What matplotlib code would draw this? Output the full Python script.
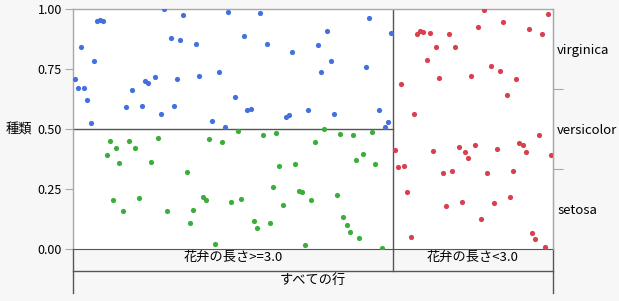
import matplotlib
matplotlib.use("Agg")
import matplotlib.pyplot as plt
import matplotlib.transforms as mtransforms
from matplotlib.lines import Line2D

plt.rcParams['font.family'] = ['Noto Sans CJK JP', 'DejaVu Sans']

# row index (0..149) and jittered y position for each species
virginica_rows = [0, 1, 2, 3, 4, 5, 6, 7, 8, 9, 16, 18, 21, 22, 23, 25, 27, 28, 30, 31,
                  32, 33, 34, 38, 39, 43, 45, 47, 48, 50, 53, 54, 55, 58, 60, 66, 67, 68, 73, 76,
                  77, 79, 80, 81, 91, 92, 95, 97, 98, 99]
virginica_vals = [0.707, 0.671, 0.843, 0.672, 0.620, 0.525, 0.782, 0.950, 0.954, 0.951,
                  0.590, 0.663, 0.597, 0.701, 0.690, 0.717, 0.563, 0.999, 0.880, 0.597,
                  0.710, 0.871, 0.975, 0.855, 0.721, 0.533, 0.739, 0.507, 0.989, 0.633,
                  0.886, 0.578, 0.582, 0.985, 0.855, 0.549, 0.560, 0.822, 0.578, 0.849,
                  0.739, 0.908, 0.782, 0.561, 0.760, 0.961, 0.579, 0.510, 0.528, 0.899]

versicolor_rows = [10, 11, 12, 13, 14, 15, 17, 19, 20, 24, 26, 29, 35, 36, 37, 40, 41, 42, 44, 46,
                   49, 51, 52, 56, 57, 59, 61, 62, 63, 64, 65, 69, 70, 71, 72, 74, 75, 78, 82, 83,
                   84, 85, 86, 87, 88, 89, 90, 93, 94, 96]
versicolor_vals = [0.393, 0.450, 0.204, 0.420, 0.357, 0.160, 0.449, 0.421, 0.214, 0.361,
                   0.464, 0.158, 0.321, 0.108, 0.164, 0.217, 0.203, 0.458, 0.022, 0.447,
                   0.196, 0.490, 0.207, 0.117, 0.089, 0.474, 0.110, 0.258, 0.482, 0.346,
                   0.182, 0.353, 0.240, 0.238, 0.017, 0.204, 0.446, 0.500, 0.224, 0.480,
                   0.132, 0.099, 0.070, 0.474, 0.370, 0.045, 0.397, 0.489, 0.353, 0.003]

setosa_rows = list(range(100, 150))
setosa_vals = [0.413, 0.343, 0.686, 0.345, 0.238, 0.049, 0.564, 0.897, 0.908, 0.904,
               0.786, 0.899, 0.408, 0.840, 0.713, 0.318, 0.179, 0.897, 0.325, 0.842,
               0.426, 0.195, 0.403, 0.379, 0.721, 0.432, 0.926, 0.125, 0.996, 0.315,
               0.761, 0.193, 0.418, 0.743, 0.947, 0.642, 0.217, 0.326, 0.710, 0.443,
               0.432, 0.404, 0.915, 0.065, 0.042, 0.476, 0.895, 0.010, 0.978, 0.390]

left_ticks = [0.0, 0.25, 0.50, 0.75, 1.00]
right_labels = ['setosa', 'versicolor', 'virginica']
split_labels = ['花弁の長さ>=3.0', '花弁の長さ<3.0']
split_rows = [0, 100, 150]
root_label = 'すべての行'

BG = '#f7f7f7'
DARK = '#555555'
GRAY = '#a8a8a8'

fig = plt.figure(figsize=(6.19, 3.01), dpi=100, facecolor=BG)
ax = fig.add_axes([73 / 619, 52 / 301, 480 / 619, 240 / 301])
ax.set_facecolor('white')

ax.scatter([r + 0.5 for r in virginica_rows], virginica_vals, s=14, color='#4270e0', linewidths=0, zorder=3)
ax.scatter([r + 0.5 for r in versicolor_rows], versicolor_vals, s=14, color='#3aad3a', linewidths=0, zorder=3)
ax.scatter([r + 0.5 for r in setosa_rows], setosa_vals, s=14, color='#d9404e', linewidths=0, zorder=3)

ax.set_xlim(split_rows[0], split_rows[-1])
ax.set_ylim(0, 1)
ax.set_xticks([])

# split lines
ax.plot([split_rows[0], split_rows[1]], [0.5, 0.5], color=DARK, lw=1.0, zorder=2)
ax.plot([split_rows[1], split_rows[1]], [0, 1], color=DARK, lw=1.0, zorder=2)

for side in ['left', 'top', 'right']:
    ax.spines[side].set_color(GRAY)
    ax.spines[side].set_linewidth(1.0)
ax.spines['bottom'].set_color(DARK)

ax.set_yticks(left_ticks)
ax.set_yticklabels(['%.2f' % t for t in left_ticks])
ax.tick_params(axis='y', length=6, color=GRAY, labelsize=9, pad=2)
ax.set_ylabel('種類', rotation=0, fontsize=9.5, va='center')
ax.yaxis.set_label_coords(-0.112, 0.5)

# right axis with species proportions
ax2 = ax.twinx()
ax2.set_ylim(0, 1)
ax2.set_yticks([1 / 3, 2 / 3])
ax2.set_yticklabels([])
ax2.set_yticks([1 / 6, 0.5, 5 / 6], minor=True)
ax2.set_yticklabels(right_labels, minor=True)
ax2.tick_params(axis='y', which='major', length=7, color=GRAY)
ax2.tick_params(axis='y', which='minor', length=0, labelsize=9.5, pad=3)
for side in ['left', 'top', 'bottom']:
    ax2.spines[side].set_visible(False)
ax2.spines['right'].set_color(GRAY)

# partition label rows under the plot
trans = mtransforms.blended_transform_factory(ax.transData, ax.transAxes)
row1 = -22 / 240
row2 = -44 / 240
for x in [split_rows[0], split_rows[-1]]:
    ax.add_line(Line2D([x, x], [0, row2], transform=trans, color=DARK, lw=1.0, clip_on=False))
ax.add_line(Line2D([split_rows[1], split_rows[1]], [0, row1], transform=trans, color=DARK, lw=1.0, clip_on=False))
ax.add_line(Line2D([split_rows[0], split_rows[-1]], [row1, row1], transform=trans, color=DARK, lw=1.0, clip_on=False))

for i, lab in enumerate(split_labels):
    xc = (split_rows[i] + split_rows[i + 1]) / 2
    ax.text(xc, row1 / 2 + 0.012, lab, transform=trans, ha='center', va='center', fontsize=9.5)
ax.text((split_rows[0] + split_rows[-1]) / 2, (row1 + row2) / 2 + 0.008, root_label,
        transform=trans, ha='center', va='center', fontsize=9.5)

fig.savefig('out.png', dpi=100, facecolor=BG)
